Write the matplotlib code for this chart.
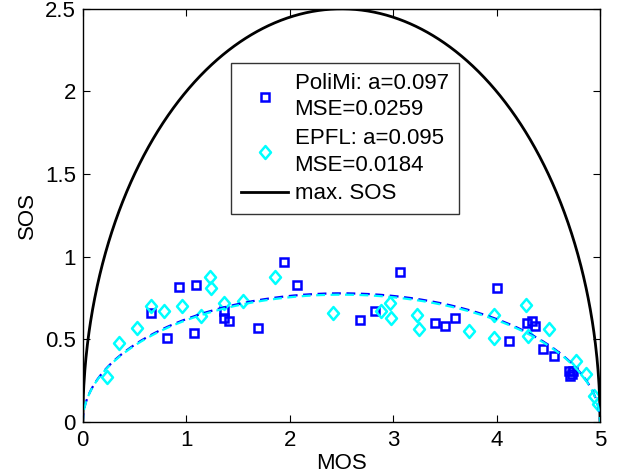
import numpy as np
import matplotlib
matplotlib.use("Agg")
import matplotlib.pyplot as plt
from matplotlib.path import Path

plt.rcParams['font.family'] = ['Liberation Sans', 'DejaVu Sans']

# PoliMi data (MOS, SOS)
polimi_mos = [0.66, 0.81, 0.93, 1.09, 1.07, 1.36, 1.36, 1.41, 1.69, 1.94, 2.07,
              2.68, 2.82, 3.07, 3.40, 3.50, 3.60, 4.00, 4.12, 4.29, 4.34, 4.37,
              4.45, 4.55, 4.70, 4.73, 4.71, 4.74]
polimi_sos = [0.66, 0.51, 0.82, 0.83, 0.54, 0.67, 0.63, 0.61, 0.57, 0.97, 0.83,
              0.62, 0.67, 0.91, 0.60, 0.58, 0.63, 0.81, 0.49, 0.60, 0.61, 0.58,
              0.44, 0.40, 0.31, 0.29, 0.28, 0.31]

# EPFL data (MOS, SOS)
epfl_mos = [0.23, 0.35, 0.52, 0.66, 0.78, 0.96, 1.14, 1.23, 1.24, 1.36, 1.55,
            1.86, 2.42, 2.88, 2.97, 2.98, 3.23, 3.25, 3.73, 3.97, 3.97, 4.28,
            4.30, 4.51, 4.77, 4.86, 4.94, 4.98]
epfl_sos = [0.27, 0.48, 0.57, 0.70, 0.67, 0.70, 0.64, 0.88, 0.81, 0.72, 0.73,
            0.88, 0.66, 0.67, 0.72, 0.63, 0.65, 0.56, 0.55, 0.51, 0.65, 0.71,
            0.52, 0.56, 0.37, 0.29, 0.16, 0.11]

a_polimi = 0.097
a_epfl = 0.095
mse_polimi = 0.0259
mse_epfl = 0.0184
scale_min, scale_max = 0, 5

x_ticks = [0, 1, 2, 3, 4, 5]
y_ticks = [0, 0.5, 1, 1.5, 2, 2.5]

FS = 16

diamond = Path([(0, 1), (0.85, 0), (0, -1), (-0.85, 0), (0, 1)],
               [Path.MOVETO, Path.LINETO, Path.LINETO, Path.LINETO, Path.CLOSEPOLY])

fig = plt.figure(figsize=(6.18, 4.76), dpi=100)
ax = fig.add_axes([0.134, 0.1134, 0.837, 0.868])

xs = np.linspace(scale_min, scale_max, 1001)
base = np.clip(-(xs - scale_min) * (xs - scale_max), 0, None)

ax.plot(polimi_mos, polimi_sos, linestyle='none', marker='s', markersize=6.3,
        markerfacecolor='none', markeredgecolor='#0000ff', markeredgewidth=1.8,
        label=f'PoliMi: a={a_polimi}\nMSE={mse_polimi}')
ax.plot(epfl_mos, epfl_sos, linestyle='none', marker=diamond, markersize=9.3,
        markerfacecolor='none', markeredgecolor='#00ffff', markeredgewidth=1.8,
        label=f'EPFL: a={a_epfl}\nMSE={mse_epfl}')
ax.plot(xs, np.sqrt(base), color='black', lw=2, label='max. SOS')
ax.plot(xs, np.sqrt(a_polimi * base), color='#0000ff', lw=1.6,
        linestyle=(0, (4, 2.5)))
ax.plot(xs, np.sqrt(a_epfl * base), color='#00ffff', lw=1.6,
        linestyle=(1, (4, 2.5)))

ax.set_xlim(0, 5)
ax.set_ylim(0, 2.5)
ax.set_xticks(x_ticks)
ax.set_yticks(y_ticks)
ax.set_xticklabels([f'{t:g}' for t in x_ticks])
ax.set_yticklabels([f'{t:g}' for t in y_ticks])
ax.tick_params(direction='in', top=True, right=True, length=5, width=0.8,
               labelsize=FS)
ax.tick_params(axis='x', pad=6)
ax.tick_params(axis='y', pad=5)
for s in ax.spines.values():
    s.set_linewidth(1.0)

ax.set_xlabel('MOS', fontsize=FS, labelpad=1)
ax.set_ylabel('SOS', fontsize=FS, labelpad=5)

leg = ax.legend(loc='upper left', bbox_to_anchor=(0.287, 0.8696), fontsize=FS,
                frameon=True, fancybox=False, edgecolor='black',
                handlelength=2.1, handletextpad=0.3, borderpad=0.45,
                labelspacing=0.35, borderaxespad=0)
leg.get_frame().set_linewidth(1.0)
for t in leg.get_texts():
    t.set_linespacing(1.35)

fig.savefig('out.png', dpi=100)
